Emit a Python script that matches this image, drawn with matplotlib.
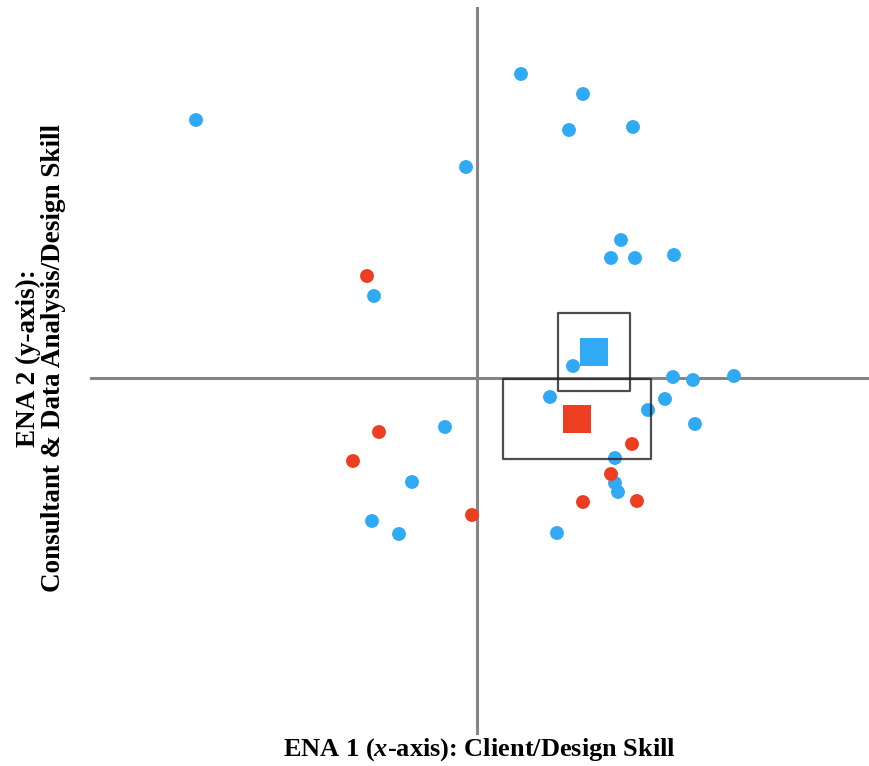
import matplotlib.pyplot as plt
from matplotlib.patches import Rectangle

plt.rcParams['font.family'] = ['Liberation Serif', 'DejaVu Serif']
plt.rcParams['mathtext.fontset'] = 'custom'
plt.rcParams['mathtext.it'] = 'Liberation Serif:italic:bold'
plt.rcParams['mathtext.rm'] = 'Liberation Serif:bold'

# ENA projected points for each group
blue_x = [-0.7025, 0.11, 0.265, 0.23, 0.39, -0.0275, 0.36, 0.335, 0.395, 0.4925,
          -0.2575, 0.24, 0.49, 0.54, 0.6425, 0.1825, 0.47, 0.4275, 0.545, -0.08,
          0.345, 0.345, 0.3525, -0.1625, -0.2625, -0.195, 0.20]
blue_y = [0.645, 0.76, 0.71, 0.62, 0.6275, 0.5275, 0.345, 0.30, 0.30, 0.3075,
          0.205, 0.03, 0.0025, -0.005, 0.005, -0.0475, -0.0525, -0.08, -0.115, -0.1225,
          -0.20, -0.2625, -0.285, -0.26, -0.3575, -0.39, -0.3875]

red_x = [-0.275, -0.245, -0.31, -0.0125, 0.3875, 0.335, 0.265, 0.40]
red_y = [0.255, -0.135, -0.2075, -0.3425, -0.165, -0.24, -0.31, -0.3075]

# group means and confidence interval half-widths
blue_mean = (0.2925, 0.065)
blue_ci = (0.089, 0.0975)
red_mean = (0.25, -0.1025)
red_ci = (0.184, 0.099)

BLUE = '#31aaf6'
RED = '#ee3e22'

fig = plt.figure(figsize=(8.7, 7.66), dpi=100)
ax = fig.add_axes([0, 0, 1, 1])
ax.set_xlim(-1.1925, 0.9825)
ax.set_ylim(-0.97, 0.945)
ax.axis('off')

# axes through the origin
ax.plot([-0.965, 0.9825], [0, 0], color='#858585', lw=2.2, zorder=1)
ax.plot([0, 0], [-0.8875, 0.925], color='#858585', lw=2.2, zorder=1)

ax.scatter(blue_x, blue_y, s=100, color=BLUE, edgecolors='none', zorder=3)
ax.scatter(red_x, red_y, s=100, color=RED, edgecolors='none', zorder=3)

ax.scatter([blue_mean[0]], [blue_mean[1]], s=400, marker='s', color=BLUE,
           edgecolors='none', zorder=2)
ax.scatter([red_mean[0]], [red_mean[1]], s=400, marker='s', color=RED,
           edgecolors='none', zorder=2)

for (mx, my), (cx, cy) in [(blue_mean, blue_ci), (red_mean, red_ci)]:
    ax.add_patch(Rectangle((mx - cx, my - cy), 2 * cx, 2 * cy, fill=False,
                           edgecolor='#222222', lw=1.6, alpha=0.8,
                           joinstyle='round', zorder=4))

fig.text(0.551, 0.021, 'ENA 1 ($x$-axis): Client/Design Skill', ha='center',
         va='center', fontsize=19, fontweight='bold')
fig.text(0.047, 0.533, 'ENA 2 (y-axis):\nConsultant & Data Analysis/Design Skill',
         ha='center', va='center', rotation=90, fontsize=19.5, fontweight='bold',
         multialignment='center', linespacing=1.0)

fig.savefig('out.png', dpi=100)
